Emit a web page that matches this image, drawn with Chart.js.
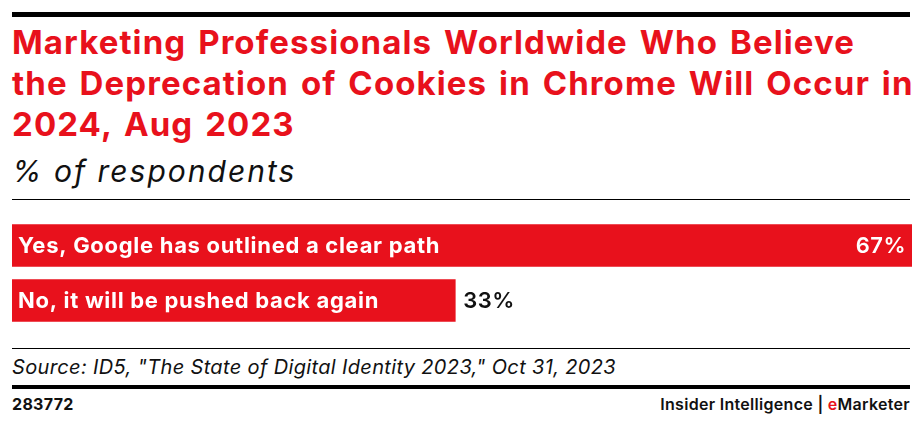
<!DOCTYPE html>
<html>
<head>
<meta charset="utf-8">
<script src="https://cdn.jsdelivr.net/npm/chart.js@4.4.0/dist/chart.umd.min.js"></script>
<style>
  html, body { margin: 0; padding: 0; background: #fff; }
  body { width: 922px; height: 425px; position: relative; overflow: hidden; font-family: "Inter", "Lato", sans-serif; }
  .rule { position: absolute; left: 12px; width: 898px; background: #000; }
  #title { position: absolute; left: 12px; top: 22px; width: 910px; white-space: nowrap; color: #e8111c; font-weight: 700; font-size: 33px; line-height: 41px; letter-spacing: 1.1px; word-spacing: 3px; }
  #subtitle { position: absolute; left: 12px; top: 153px; font-style: italic; font-size: 30px; line-height: 36px; letter-spacing: 2px; color: #111; }
  #source { position: absolute; left: 12px; top: 354px; font-style: italic; font-size: 20px; line-height: 26px; letter-spacing: 0.35px; color: #111; }
  #id { position: absolute; left: 12px; top: 394px; font-weight: 700; font-size: 16px; line-height: 20px; letter-spacing: 0.3px; color: #111; }
  #brand { position: absolute; right: 12px; top: 394px; font-weight: 600; font-size: 16px; line-height: 20px; letter-spacing: 0.3px; color: #111; }
  #brand span { color: #e8111c; }
  #wrap { position: absolute; left: 12px; top: 218px; width: 900px; height: 110px; }
</style>
</head>
<body>
<div class="rule" style="top:12px;height:5px"></div>
<div id="title">Marketing Professionals Worldwide Who Believe<br>the Deprecation of Cookies in Chrome Will Occur in<br>2024, Aug 2023</div>
<div id="subtitle">% of respondents</div>
<div class="rule" style="top:199px;height:1px"></div>
<div id="wrap"><canvas id="bars"></canvas></div>
<div class="rule" style="top:348px;height:1px"></div>
<div id="source">Source: ID5, "The State of Digital Identity 2023," Oct 31, 2023</div>
<div class="rule" style="top:385px;height:4px"></div>
<div id="id">283772</div>
<div id="brand">Insider Intelligence | <span>e</span>Marketer</div>
<script>
const categories = ['Yes, Google has outlined a clear path', 'No, it will be pushed back again']
const values = [67, 33]
const red = '#e8111c'

// labels inside the bars + value labels
const barLabels = {
    id: 'barLabels',
    afterDatasetsDraw(chart) {
        const ctx = chart.ctx
        const meta = chart.getDatasetMeta(0)
        ctx.save()
        ctx.textBaseline = 'middle'
        meta.data.forEach((bar, i) => {
            const left = bar.base
            ctx.font = '700 22px Inter, Lato, sans-serif'
            ctx.letterSpacing = '0.7px'
            ctx.fillStyle = '#fff'
            ctx.textAlign = 'left'
            ctx.fillText(categories[i], left + 6, bar.y + 1)
            const labelW = ctx.measureText(categories[i]).width
            ctx.font = '600 22px Inter, Lato, sans-serif'
            ctx.letterSpacing = '0.5px'
            const txt = values[i] + '%'
            const valW = ctx.measureText(txt).width
            if (bar.x - left > labelW + valW + 80) {
                ctx.fillStyle = '#fff'
                ctx.textAlign = 'right'
                ctx.fillText(txt, bar.x - 6, bar.y + 1)
            } else {
                ctx.fillStyle = '#111'
                ctx.textAlign = 'left'
                ctx.fillText(txt, bar.x + 8, bar.y + 1)
            }
        })
        ctx.restore()
    }
}

new Chart(document.getElementById('bars'), {
    type: 'bar',
    data: {
        labels: categories,
        datasets: [{
            data: values,
            backgroundColor: red,
            barThickness: 42
        }]
    },
    options: {
        indexAxis: 'y',
        responsive: true,
        maintainAspectRatio: false,
        animation: false,
        layout: { padding: 0 },
        plugins: { legend: { display: false }, tooltip: { enabled: false } },
        scales: {
            x: { display: false, min: 0, max: 67 },
            y: { display: false }
        }
    },
    plugins: [barLabels]
})
</script>
</body>
</html>
